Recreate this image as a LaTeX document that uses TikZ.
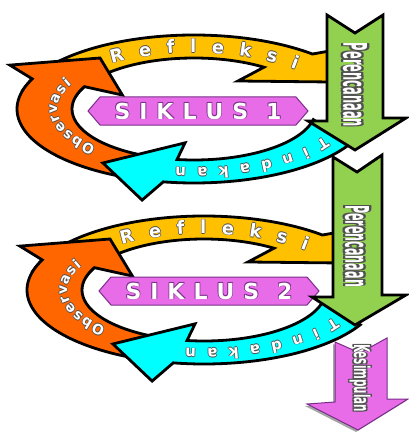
\documentclass[tikz,border=0pt]{standalone}
\usepackage{fontspec}
\setmainfont{DejaVu Sans}
\usepackage{graphicx}
\usetikzlibrary{decorations.text}
\definecolor{yel}{HTML}{FFC000}
\definecolor{org}{HTML}{FF6600}
\definecolor{cya}{HTML}{00FFFF}
\definecolor{grn}{HTML}{92D050}
\definecolor{pnk}{HTML}{E86CE8}
\definecolor{pnkd}{HTML}{7A2E8A}
\definecolor{txtd}{HTML}{505050}
\newcommand\outl[2][txtd]{\leavevmode\rlap{\color{#1}\raisebox{0.7pt}{\hspace*{-0.7pt}#2}}\rlap{\color{#1}\raisebox{-0.7pt}{\hspace*{0.7pt}#2}}\rlap{\color{#1}\raisebox{0.7pt}{\hspace*{0.7pt}#2}}\rlap{\color{#1}\raisebox{-0.7pt}{\hspace*{-0.7pt}#2}}{\color{white}#2}}
\newcommand\arclabel[8]{%
  \foreach \dx/\dy in {-0.7/0,0.7/0,0/0.7,0/-0.7}{%
    \path[decorate,decoration={text along path,text={#7},text color=txtd,text align={fit to path},raise=#8}]
      ([shift={(#1,#2)},xshift=\dx pt,yshift=\dy pt]#3:#5 and #6) arc[start angle=#3,end angle=#4,x radius=#5,y radius=#6];
  }%
  \path[decorate,decoration={text along path,text={#7},text color=white,text align={fit to path},raise=#8}]
      ([shift={(#1,#2)}]#3:#5 and #6) arc[start angle=#3,end angle=#4,x radius=#5,y radius=#6];
}
\newcommand\cyc[5]{%
  \begin{scope}[shift={(#1,#2)},yscale=0.418]
    \path[arr,fill=yel] (165:177) arc[start angle=165,end angle=48,radius=177]
      -- (141,141) -- (160,64) -- (44,67) -- (55:122)
      arc[start angle=55,end angle=165,radius=122] -- cycle;
    \path[arr,fill=org] (255:177) arc[start angle=255,end angle=156,radius=177]
      -- (150.3:212) -- (127.6:154) -- (155:79) -- (154:122)
      arc[start angle=154,end angle=255,radius=122] -- cycle;
    \path[arr,fill=cya] (-12:122) -- (-28:177) arc[start angle=-28,end angle=-100,radius=177]
      -- (-103.4:224) -- (-125.2:158) -- (-96.3:81.5) -- (-98:122)
      arc[start angle=-98,end angle=-12,radius=122] -- cycle;
  \end{scope}
  \arclabel{#1}{#2}{124}{46}{150}{62.7}{|\fontsize{18}{18}\bfseries|Refleksi}{-6.5pt}
  \arclabel{#1}{#2}{225}{152}{142}{59.4}{|\fontsize{14}{14}\bfseries|Observasi}{-5pt}
  \arclabel{#1}{#2}{-30}{-97}{154}{64.4}{|\fontsize{15}{15}\bfseries|Tindakan}{-5.5pt}
  \path[fill=pnk,draw=pnkd,line width=1pt] ([shift={(#3,#4)}]-110,0) -- ([shift={(#3,#4)}]-98,14)
    -- ([shift={(#3,#4)}]98,14) -- ([shift={(#3,#4)}]110,0) -- ([shift={(#3,#4)}]98,-14)
    -- ([shift={(#3,#4)}]-98,-14) -- cycle;
  \node (s#5) at (#3,#4) {\fontsize{22}{22}\selectfont\bfseries\outl[pnkd]{\makebox[167pt][s]{S\hfil I\hfil K\hfil L\hfil U\hfil S\hfil\hfil #5}}};
}
\begin{document}
\begin{tikzpicture}[x=1pt,y=1pt,arr/.style={draw=black,line width=2.8pt}]
\useasboundingbox (0,0) rectangle (408,-433);
\fill[white] (0,0) rectangle (408,-433);
\cyc{194}{-109}{198}{-111}{1}
\cyc{204}{-290}{209}{-291}{2}
% green arrows
\path[arr,fill=grn] (327,-15) -- (355,-33) -- (383,-15) -- (383,-118) -- (406,-118)
  -- (355,-150) -- (308,-121) -- (327,-121) -- cycle;
\node[rotate=-90] (g1) at (355,-85) {\resizebox{84pt}{26pt}{\outl{\bfseries Perencanaan}}};
\path[arr,fill=grn] (333,-157) -- (357,-172) -- (382,-155) -- (382,-295) -- (406,-295)
  -- (355,-325) -- (312,-297) -- (333,-297) -- cycle;
\node[rotate=-90] (g2) at (357,-246) {\resizebox{82pt}{26pt}{\outl{\bfseries Perencanaan}}};
% pink arrow
\path[fill=black!50,opacity=0.7] (333,-344) -- (358,-355) -- (385,-340) -- (385,-401) -- (406,-401)
  -- (356,-432) -- (305,-406) -- (333,-404) -- cycle;
\path[fill=pnk,draw=pnkd,line width=1pt] (335,-342) -- (360,-353) -- (387,-338) -- (387,-399) -- (408,-399)
  -- (358,-430) -- (307,-404) -- (335,-402) -- cycle;
\node[rotate=-90] (p1) at (360,-378) {\resizebox*{68pt}{24pt}{\outl{\bfseries Kesimpulan}}};
\end{tikzpicture}
\end{document}
